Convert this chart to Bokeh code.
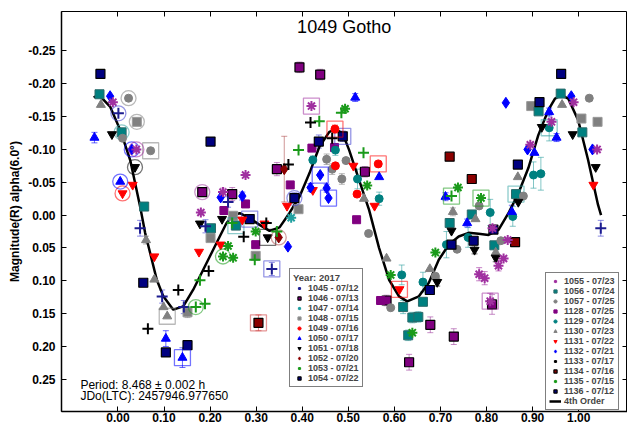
from bokeh.plotting import figure
from bokeh.models import (Range1d, FixedTicker, NumeralTickFormatter, Legend, LegendItem,
                          Label, Whisker, TeeHead, ColumnDataSource, LinearAxis,
                          CustomJSTickFormatter)
from bokeh.embed import file_html
from bokeh.resources import INLINE

FONT = "Liberation Sans"

# ---------------- data (phase, magnitude) ----------------
x_ticks = [0.0, 0.1, 0.2, 0.3, 0.4, 0.5, 0.6, 0.7, 0.8, 0.9, 1.0]
y_ticks = [-0.25, -0.2, -0.15, -0.1, -0.05, 0.0, 0.05, 0.1, 0.15, 0.2, 0.25]

s1045_x = [0.001, 0.048, 0.096, 0.143, 0.190, 0.239, 0.334, 1.048]
s1045_y = [-0.155, 0.020, 0.124, 0.140, 0.017, -0.020, 0.082, 0.020]
s1045_e = [0, 0.012, 0.010, 0.010, 0.010, 0.008, 0.010, 0.012]
s1045_r = ["o", "", "", "", "", "", "s", ""]

s1046_x = [0.183, 0.248, 0.345, 0.394, 0.439, 0.536, 0.583, 0.632, 0.678, 0.729, 0.812]
s1046_y = [-0.035, -0.032, -0.070, -0.225, -0.214, -0.066, 0.130, 0.224, 0.167, 0.185, 0.136]
s1046_e = [0, 0.010, 0.010, 0.008, 0.008, 0.008, 0.008, 0.012, 0.012, 0.012, 0.015]
s1046_r = ["o", "", "", "", "", "", "", "", "", "", ""]

s1047_x = [0.376]
s1047_y = [0.004]
s1047_e = [0]
s1047_r = ["o"]

s1048_x = [0.041, 0.201, 0.250, 0.299, 0.151, 0.392, 0.897, 1.006, 1.041]
s1048_y = [-0.142, 0.035, 0.001, 0.062, 0.148, -0.009, -0.166, -0.147, -0.142]
s1048_e = [0, 0, 0, 0.006, 0.008, 0, 0, 0, 0]
s1048_r = ["o", "", "", "", "", "", "", "", ""]

s1049_x = [0.471, 0.565, 0.472, 0.519]
s1049_y = [-0.131, -0.078, -0.075, -0.032]
s1049_e = [0.006, 0, 0, 0]
s1049_r = ["s", "s", "", ""]

s1050_x = [-0.051, 0.005, 0.104, 0.140, 0.515, 0.567, 0.711, 0.758, 0.855, 0.904, 0.936, 0.952]
s1050_y = [-0.118, -0.051, 0.188, 0.217, -0.179, -0.058, -0.028, 0.012, -0.005, -0.095, -0.157, -0.118]
s1050_e = [0.008, 0, 0.012, 0.015, 0.006, 0, 0.006, 0.006, 0.010, 0, 0.006, 0.006]
s1050_r = ["", "o", "", "s", "", "", "", "", "", "", "", ""]

s1051_x = [-0.013, 0.037, 0.178, 0.226, 0.325, 0.693, 0.724, 0.774, 0.820, 0.869, 0.920, 0.987, 1.037]
s1051_y = [-0.123, -0.073, 0.013, 0.006, 0.034, 0.102, 0.024, 0.053, 0.065, -0.020, -0.134, -0.123, -0.073]
s1051_e = [0, 0, 0, 0, 0, 0.006, 0, 0.006, 0.006, 0, 0, 0, 0]
s1051_r = ["", "o", "", "", "s", "", "", "", "", "", "", "", ""]

s1052_x = [0.349, 0.361]
s1052_y = [0.034, -0.070]
s1052_e = [0, 0.050]
s1052_r = ["o", ""]

s1053_x = [0.169, 0.178, 0.189, 0.248, 0.297, 0.345, 0.392, 0.437, 0.485, 0.533, 0.724]
s1053_y = [0.140, 0.099, 0.135, 0.012, 0.068, 0.025, -0.099, -0.143, -0.156, -0.095, -0.029]
s1053_e = [0, 0, 0, 0, 0, 0, 0, 0, 0, 0, 0]
s1053_r = ["o", "", "", "", "", "", "", "", "", "", "s"]

s1054_x = [0.055, 0.201, 0.286, 0.383, 0.436, 0.677, 0.724, 0.772, 0.815]
s1054_y = [0.103, -0.112, 0.006, -0.026, -0.112, 0.114, 0.045, 0.039, 0.022]
s1054_e = [0, 0, 0, 0.008, 0.010, 0, 0, 0, 0]
s1054_r = ["", "", "s", "o", "", "", "", "", ""]

s1055_x = [-0.011, 0.040, 0.180, 0.228, 0.277, 0.420, 0.784, 0.796, 0.808, 0.813, 0.826,
           0.837, 0.846, 0.895, 0.941, 0.989, 1.040]
s1055_y = [-0.172, -0.100, -0.004, -0.035, -0.061, -0.166, 0.090, 0.096, 0.131, 0.020, 0.077,
           0.066, 0.038, -0.107, -0.142, -0.172, -0.100]
s1055_e = [0, 0, 0, 0.006, 0, 0, 0.010, 0.010, 0.012, 0, 0.008, 0, 0, 0, 0, 0, 0]
s1055_r = ["", "o", "", "", "", "s", "", "", "s", "", "", "", "", "", "", "", ""]

s1056_x = [-0.040, 0.008, 0.057, 0.202, 0.256, 0.619, 0.630, 0.639, 0.652, 0.662, 0.720,
           0.768, 0.817, 0.864, 0.913, 0.961, 1.008]
s1056_y = [-0.184, -0.126, -0.013, 0.020, 0.016, 0.140, 0.183, 0.156, 0.155, 0.132, 0.012,
           -0.001, 0.046, -0.032, -0.158, -0.185, -0.126]
s1056_e = [0, 0, 0, 0, 0, 0.010, 0.008, 0.008, 0.008, 0, 0, 0, 0, 0, 0, 0, 0]
s1056_r = ["", "o", "", "", "s", "", "", "", "", "", "", "", "", "s", "", "", ""]

s1057_x = [0.010, 0.023, 0.071, 0.453, 0.465, 0.486, 0.495, 0.544, 0.592, 0.689, 0.736,
           0.784, 0.831, 0.880, 1.023]
s1057_y = [-0.117, -0.178, -0.098, -0.085, -0.070, -0.055, -0.083, 0.028, 0.141, 0.093, 0.052,
           -0.014, 0.039, -0.029, -0.178]
s1057_e = [0, 0, 0, 0.008, 0.008, 0.008, 0, 0, 0, 0, 0, 0, 0, 0, 0]
s1057_r = ["", "o", "s", "", "", "", "", "", "", "", "", "", "", "", ""]

s1128_x = [0.230, 0.277, 0.299, 0.374, 0.421, 0.470, 0.518, 0.570]
s1128_y = [-0.007, -0.017, 0.045, -0.046, -0.102, -0.103, 0.007, 0.130]
s1128_e = [0, 0, 0, 0, 0, 0, 0, 0]
s1128_r = ["", "", "", "", "", "", "", ""]

s1129_x = [0.423, 0.472, 0.520, 0.567, 0.616, 0.662, 0.713, 0.760, 0.808, 0.857, 0.902, 0.918, 0.936]
s1129_y = [-0.084, -0.099, -0.055, -0.025, 0.091, 0.102, 0.045, 0.034, -0.004, 0.002, -0.061, -0.063, -0.133]
s1129_e = [0.006, 0.008, 0.015, 0.010, 0.015, 0.015, 0.020, 0.015, 0.020, 0.015, 0.020, 0.025, 0.020]
s1129_r = ["", "", "", "", "", "", "", "", "", "", "", "", "s"]

s1130_x = [-0.037, 0.061, 0.079, 0.099, 0.107, 0.534, 0.583, 0.677, 0.727, 0.776, 0.820, 0.868, 0.964]
s1130_y = [-0.168, 0.038, 0.098, 0.140, 0.154, -0.025, 0.066, 0.082, -0.005, 0.006, 0.057, -0.058, -0.168]
s1130_e = [0, 0.006, 0, 0, 0, 0, 0, 0, 0.006, 0, 0, 0, 0]
s1130_r = ["", "", "", "", "s", "", "", "", "", "", "", "", ""]

s1131_x = [0.010, 0.032, 0.079, 0.176, 0.223, 0.270, 0.318, 0.367, 0.423, 0.511, 0.557, 0.611, 1.032]
s1131_y = [-0.033, -0.046, 0.063, 0.056, 0.045, 0.007, 0.013, -0.014, -0.038, -0.075, -0.014, 0.113, -0.046]
s1131_e = [0, 0, 0, 0, 0, 0, 0, 0, 0, 0, 0, 0, 0]
s1131_r = ["o", "", "", "", "", "", "", "", "", "", "", "s", ""]

s1132_x = [-0.017, 0.030, 0.223, 0.270, 0.369, 0.418, 0.439, 0.453, 0.457, 0.842, 0.889, 0.984, 1.030]
s1132_y = [-0.181, -0.100, -0.027, -0.029, 0.048, -0.042, -0.061, -0.041, -0.026, -0.171, -0.100, -0.181, -0.100]
s1132_e = [0, 0, 0, 0.006, 0, 0.006, 0, 0.006, 0, 0, 0, 0, 0]
s1132_r = ["", "o", "", "", "", "", "s", "", "s", "", "", "", ""]

s1133_x = [0.065, 0.131, 0.197, 0.273, 0.322, 0.370, 0.418, 0.465]
s1133_y = [0.173, 0.114, 0.085, 0.033, 0.012, -0.077, -0.141, -0.117]
s1133_e = [0, 0, 0, 0, 0, 0, 0, 0]
s1133_r = ["o", "", "", "", "", "", "", "s"]

s1134_x = [0.305, 0.720, 0.768, 0.862]
s1134_y = [0.164, -0.089, -0.055, 0.041]
s1134_e = [0.012, 0, 0, 0]
s1134_r = ["s", "", "", ""]

s1135_x = [0.228, 0.239, 0.250, 0.299, 0.493, 0.541, 0.592, 0.639, 0.689, 0.738, 0.788]
s1135_y = [0.063, 0.047, 0.065, 0.025, -0.162, -0.045, 0.091, 0.179, 0.057, -0.042, -0.026]
s1135_e = [0, 0, 0, 0, 0, 0, 0, 0, 0, 0, 0]
s1135_r = ["o", "", "", "", "", "", "", "", "", "", "s"]

s1136_x = [-0.038, 0.104, 0.151, 0.488, 0.868, 0.915, 0.962]
s1136_y = [-0.215, 0.209, 0.198, -0.120, -0.077, -0.172, -0.215]
s1136_e = [0, 0, 0, 0.008, 0, 0, 0]
s1136_r = ["", "", "", "s", "", "", ""]

fit_x = [-0.0527, -0.0419, -0.0166, 0.0050, 0.0266, 0.0482, 0.0590, 0.0698, 0.0843, 0.0985,
         0.1201, 0.1417, 0.1634, 0.1778, 0.1994, 0.2210, 0.2355, 0.2498, 0.2643, 0.2859,
         0.3075, 0.3291, 0.3508, 0.3724, 0.3940, 0.4156, 0.4372, 0.4588, 0.4732, 0.4875,
         0.5019, 0.5235, 0.5451, 0.5667, 0.5884, 0.6100, 0.6279, 0.6532, 0.6748, 0.6964,
         0.7180, 0.7396, 0.7612, 0.7828, 0.8044, 0.8260, 0.8476, 0.8692, 0.8908, 0.9124,
         0.9340, 0.9486, 0.9628, 0.9773, 0.9989, 1.0205, 1.0421, 1.0486]
fit_y = [-0.179, -0.1836, -0.1647, -0.1294, -0.0838, -0.0129, 0.0270, 0.0574, 0.0984, 0.1237,
         0.1439, 0.1389, 0.1136, 0.0934, 0.0630, 0.0326, 0.0123, -0.0003, -0.0029, 0.0047,
         0.0149, 0.0240, 0.0187, -0.0033, -0.0281, -0.0636, -0.1040, -0.1268, -0.1304, -0.1244,
         -0.0990, -0.0534, -0.0079, 0.0498, 0.0984, 0.1237, 0.1313, 0.1237, 0.1029, 0.0680,
         0.0452, 0.0326, 0.0270, 0.0285, 0.0301, 0.0225, -0.0029, -0.0333, -0.0717, -0.1218,
         -0.1597, -0.1775, -0.1825, -0.1775, -0.1446, -0.0838, -0.0155, 0.0000]

# ---------------- figure ----------------
p = figure(width=627, height=424, output_backend="svg", toolbar_location=None,
           x_range=Range1d(-0.1225, 1.106), y_range=Range1d(0.299, -0.310),
           min_border_left=61, min_border_top=11, min_border_right=0, min_border_bottom=8)
p.grid.visible = False
p.outline_line_color = "black"
p.outline_line_width = 1
p.background_fill_color = "white"

for ax in (p.xaxis[0], p.yaxis[0]):
    ax.major_tick_in = 5
    ax.major_tick_out = 0
    ax.minor_tick_line_color = None
    ax.axis_line_color = "black"
    ax.axis_line_width = 1.5
    ax.major_label_text_font = FONT
    ax.major_label_text_font_style = "bold"
    ax.major_label_text_font_size = "12px"
    ax.major_label_text_color = "black"

p.xaxis.ticker = FixedTicker(ticks=x_ticks)
p.yaxis.ticker = FixedTicker(ticks=y_ticks)
p.xaxis.formatter = NumeralTickFormatter(format="0.00")
p.yaxis.formatter = NumeralTickFormatter(format="0.00")
p.xaxis.major_label_standoff = 1
p.xaxis.axis_label_standoff = 0
p.yaxis.major_label_standoff = 6
p.yaxis.axis_label = "Magnitude(R) alpha(6.0°)"
p.yaxis.axis_label_text_font = FONT
p.yaxis.axis_label_text_font_style = "bold"
p.yaxis.axis_label_text_font_size = "12px"
p.yaxis.axis_label_text_color = "black"
p.yaxis.axis_label_standoff = 3

blank = CustomJSTickFormatter(code="return ''")
top_ax = LinearAxis(ticker=FixedTicker(ticks=x_ticks), major_tick_in=5, major_tick_out=0,
                    minor_tick_line_color=None, formatter=blank, major_label_text_font_size="1px",
                    major_label_standoff=0, axis_label_standoff=0, axis_line_color=None)
right_ax = LinearAxis(ticker=FixedTicker(ticks=y_ticks), major_tick_in=5, major_tick_out=0,
                      minor_tick_line_color=None, formatter=blank, major_label_text_font_size="1px",
                      major_label_standoff=0, axis_label_standoff=0, axis_line_color=None)
p.add_layout(top_ax, "above")
p.add_layout(right_ax, "right")

# fit curve (drawn under the points)
fit_r = p.line(fit_x, fit_y, line_color="black", line_width=2.5)

def add_series(xs, ys, es, rs, marker, fill, line, size, lw=1.0, ecolor=None):
    ec = ecolor or fill
    ex = [a for a, e in zip(xs, es) if e > 0]
    lo = [b - e for b, e in zip(ys, es) if e > 0]
    hi = [b + e for b, e in zip(ys, es) if e > 0]
    if ex:
        src = ColumnDataSource(dict(x=ex, lo=lo, hi=hi))
        w = Whisker(source=src, base="x", lower="lo", upper="hi", dimension="height",
                    line_color=ec, line_alpha=0.6, line_width=1,
                    upper_head=TeeHead(size=6, line_color=ec, line_alpha=0.6, line_width=1),
                    lower_head=TeeHead(size=6, line_color=ec, line_alpha=0.6, line_width=1))
        p.add_layout(w)
    cx = [a for a, r in zip(xs, rs) if r == "o"]
    cy = [b for b, r in zip(ys, rs) if r == "o"]
    if cx:
        p.scatter(cx, cy, marker="circle", size=15, fill_color=None,
                  line_color=ec, line_alpha=0.55, line_width=1.3)
    sx = [a for a, r in zip(xs, rs) if r == "s"]
    sy = [b for b, r in zip(ys, rs) if r == "s"]
    if sx:
        p.scatter(sx, sy, marker="square", size=16, fill_color=None,
                  line_color=ec, line_alpha=0.55, line_width=1.3)
    return p.scatter(xs, ys, marker=marker, size=size, fill_color=fill,
                     line_color=line, line_width=lw)

NAVY = "#1c1c90"
PURPLE = "#800080"
TEAL = "#008080"
GRAY = "#808080"
RED = "#ff0000"
BLUE = "#0000ff"
DRED = "#8b0000"
GREEN = "#1a9a1a"
DNAVY = "#000080"
PAST = "#a030a0"

r1046 = add_series(s1046_x, s1046_y, s1046_e, s1046_r, "square", PURPLE, "black", 9, 1.2, "#a040a0")
r1128 = add_series(s1128_x, s1128_y, s1128_e, s1128_r, "square", PURPLE, PURPLE, 8)
r1048 = add_series(s1048_x, s1048_y, s1048_e, s1048_r, "square", GRAY, "#9a9a9a", 9)
r1056 = add_series(s1056_x, s1056_y, s1056_e, s1056_r, "square", TEAL, "#2a6a6a", 9, 1.0, "#30a0a0")
r1129 = add_series(s1129_x, s1129_y, s1129_e, s1129_r, "circle", TEAL, TEAL, 8, 1.0, "#30a0a0")
r1057 = add_series(s1057_x, s1057_y, s1057_e, s1057_r, "circle", GRAY, GRAY, 8)
r1130 = add_series(s1130_x, s1130_y, s1130_e, s1130_r, "triangle", GRAY, GRAY, 9)
r1054 = add_series(s1054_x, s1054_y, s1054_e, s1054_r, "square", DNAVY, "black", 9, 1.2, "#4040d0")
r1136 = add_series(s1136_x, s1136_y, s1136_e, s1136_r, "square", DNAVY, "black", 9, 1.2, "#4040d0")
r1134 = add_series(s1134_x, s1134_y, s1134_e, s1134_r, "square", DRED, "black", 9, 1.2, "#d04040")
r1049 = add_series(s1049_x, s1049_y, s1049_e, s1049_r, "circle", RED, RED, 8)
r1131 = add_series(s1131_x, s1131_y, s1131_e, s1131_r, "inverted_triangle", RED, RED, 9)
r1050 = add_series(s1050_x, s1050_y, s1050_e, s1050_r, "triangle", BLUE, BLUE, 9)
r1132 = add_series(s1132_x, s1132_y, s1132_e, s1132_r, "diamond", BLUE, BLUE, 11)
r1051 = add_series(s1051_x, s1051_y, s1051_e, s1051_r, "inverted_triangle", "black", "black", 9)
r1052 = add_series(s1052_x, s1052_y, s1052_e, s1052_r, "diamond", DRED, DRED, 11, 1.0, "#b05050")
r1047 = add_series(s1047_x, s1047_y, s1047_e, s1047_r, "asterisk", None, "#20a0a0", 10, 2)
r1055 = add_series(s1055_x, s1055_y, s1055_e, s1055_r, "asterisk", None, PAST, 10, 2, PAST)
r1135 = add_series(s1135_x, s1135_y, s1135_e, s1135_r, "asterisk", None, GREEN, 10, 2, GREEN)
r1045 = add_series(s1045_x, s1045_y, s1045_e, s1045_r, "cross", None, NAVY, 11, 2, "#4040d0")
r1053 = add_series(s1053_x, s1053_y, s1053_e, s1053_r, "cross", None, GREEN, 11, 2, GREEN)
r1133 = add_series(s1133_x, s1133_y, s1133_e, s1133_r, "cross", None, "black", 11, 2)

# ---------------- legends ----------------
def style_legend(lg):
    lg.label_text_font = FONT
    lg.label_text_font_style = "bold"
    lg.label_text_font_size = "9px"
    lg.label_height = 8
    lg.glyph_height = 8
    lg.glyph_width = 12
    lg.spacing = 0
    lg.padding = 3
    lg.margin = 0
    lg.label_standoff = 3
    lg.border_line_color = "black"
    lg.border_line_width = 1.5
    lg.background_fill_color = "white"
    lg.background_fill_alpha = 1

leg1 = Legend(items=[
    LegendItem(label="1045 - 07/12", renderers=[r1045]),
    LegendItem(label="1046 - 07/13", renderers=[r1046]),
    LegendItem(label="1047 - 07/14", renderers=[r1047]),
    LegendItem(label="1048 - 07/15", renderers=[r1048]),
    LegendItem(label="1049 - 07/16", renderers=[r1049]),
    LegendItem(label="1050 - 07/17", renderers=[r1050]),
    LegendItem(label="1051 - 07/18", renderers=[r1051]),
    LegendItem(label="1052 - 07/20", renderers=[r1052]),
    LegendItem(label="1053 - 07/21", renderers=[r1053]),
    LegendItem(label="1054 - 07/22", renderers=[r1054]),
], location=(228, 24), title="Year: 2017")
style_legend(leg1)
leg1.title_text_font = FONT
leg1.title_text_font_style = "bold"
leg1.title_text_font_size = "9.5px"
leg1.title_standoff = 0

leg2 = Legend(items=[
    LegendItem(label="1055 - 07/23", renderers=[r1055]),
    LegendItem(label="1056 - 07/24", renderers=[r1056]),
    LegendItem(label="1057 - 07/25", renderers=[r1057]),
    LegendItem(label="1128 - 07/25", renderers=[r1128]),
    LegendItem(label="1129 - 07/24", renderers=[r1129]),
    LegendItem(label="1130 - 07/23", renderers=[r1130]),
    LegendItem(label="1131 - 07/22", renderers=[r1131]),
    LegendItem(label="1132 - 07/21", renderers=[r1132]),
    LegendItem(label="1133 - 07/17", renderers=[r1133]),
    LegendItem(label="1134 - 07/16", renderers=[r1134]),
    LegendItem(label="1135 - 07/15", renderers=[r1135]),
    LegendItem(label="1136 - 07/12", renderers=[r1136]),
    LegendItem(label="4th Order", renderers=[fit_r]),
], location=(484, 1))
style_legend(leg2)

p.add_layout(leg1, "center")
p.add_layout(leg2, "center")

# ---------------- texts ----------------
p.add_layout(Label(x=0.491, y=-0.286, text="1049 Gotho", text_align="center",
                   text_baseline="middle", text_font=FONT, text_font_size="18px",
                   text_color="black"))
p.add_layout(Label(x=-0.0815, y=0.258, text="Period: 8.468 ± 0.002 h", text_align="left",
                   text_baseline="middle", text_font=FONT, text_font_size="12px",
                   text_color="black"))
p.add_layout(Label(x=-0.0815, y=0.276, text="JDo(LTC): 2457946.977650", text_align="left",
                   text_baseline="middle", text_font=FONT, text_font_size="12px",
                   text_color="black"))

open("out.html", "w").write(file_html(p, INLINE))
